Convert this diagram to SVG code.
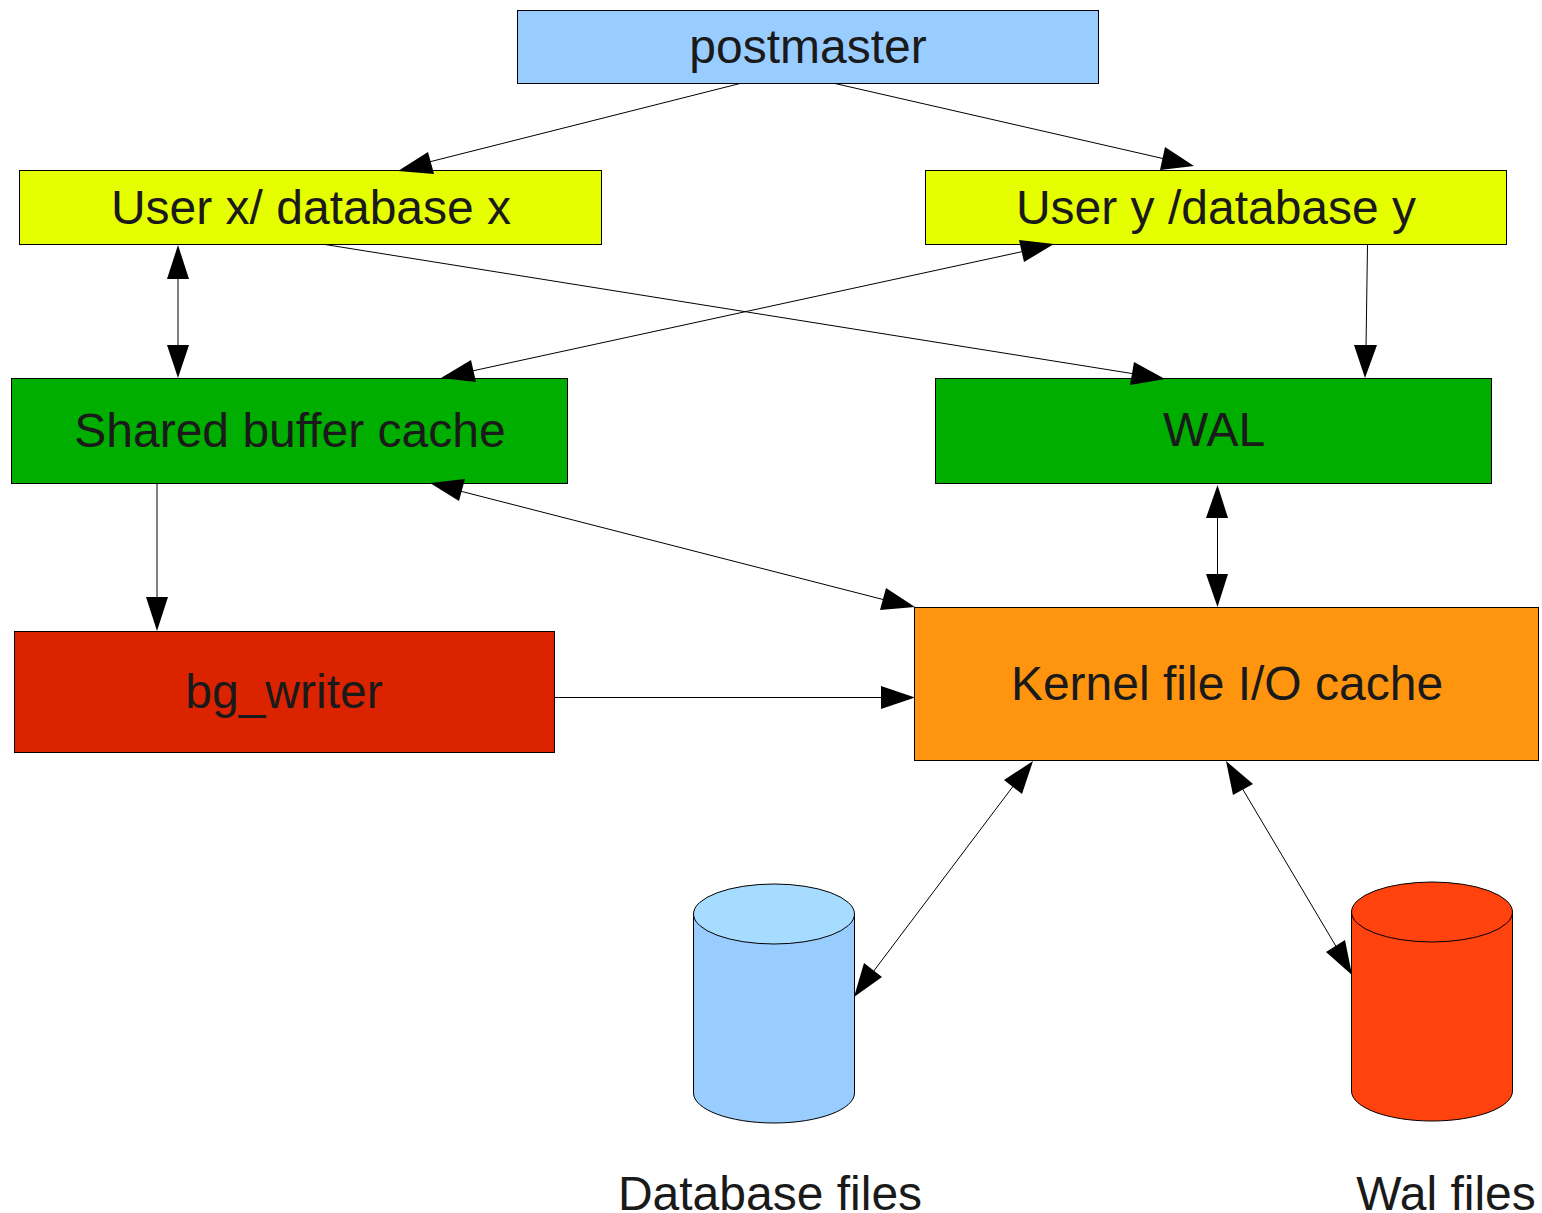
<svg xmlns="http://www.w3.org/2000/svg" width="1542" height="1213" viewBox="0 0 1542 1213">
<style>
.n{stroke:#000;stroke-width:1}
text{font-family:"Liberation Sans",Arial,sans-serif;font-size:48px;fill:#1a1a1a;text-anchor:middle}
.c line{stroke:#000;stroke-width:1;fill:none}
.c polygon{fill:#000}
</style>
<rect width="1542" height="1213" fill="#fff"/>
<g id="postmaster"><rect class="n" x="517.500" y="10.500" width="581" height="73" fill="#99ccff"/><text x="808" y="63">postmaster</text></g>
<g id="userx"><rect class="n" x="19.500" y="170.500" width="582" height="74" fill="#e6ff00"/><text x="311" y="224">User x/ database x</text></g>
<g id="usery"><rect class="n" x="925.500" y="170.500" width="581" height="74" fill="#e6ff00"/><text x="1216" y="224">User y /database y</text></g>
<g id="shared"><rect class="n" x="11.500" y="378.500" width="556" height="105" fill="#00ae00"/><text x="290" y="447">Shared buffer cache</text></g>
<g id="wal"><rect class="n" x="935.500" y="378.500" width="556" height="105" fill="#00ae00"/><text x="1214" y="446">WAL</text></g>
<g id="bgwriter"><rect class="n" x="14.500" y="631.500" width="540" height="121" fill="#dc2300"/><text x="284" y="708">bg_writer</text></g>
<g id="kernel"><rect class="n" x="914.500" y="607.500" width="624" height="153" fill="#ff950e"/><text x="1227" y="700">Kernel file I/O cache</text></g>
<g id="dbfiles"><path class="n" d="M693.500 914v179c0 16.500 36 30 80.500 30s80.500-13.500 80.500-30V914z" fill="#99ccff"/><ellipse class="n" cx="774" cy="914" rx="80.500" ry="30" fill="#a6dcff"/><text x="770" y="1210">Database files</text></g>
<g id="walfiles"><path class="n" d="M1351.500 912v179c0 16.500 36 30 80.500 30s80.500-13.500 80.500-30V912z" fill="#ff420e"/><ellipse class="n" cx="1432" cy="912" rx="80.500" ry="30" fill="#ff420e"/><text x="1446" y="1210">Wal files</text></g>
<g id="connectors" class="c">
<line x1="740" y1="83.500" x2="425" y2="163"/><polygon points="398,171 428,152 434,174"/>
<line x1="835" y1="83.500" x2="1165" y2="159"/><polygon points="1194,166 1160,170 1165,147"/>
<line x1="178" y1="275" x2="178" y2="348"/><polygon points="178,245 167,279 189,279"/><polygon points="178,378 167,345 189,345"/>
<line x1="325" y1="244.500" x2="1135" y2="374"/><polygon points="1165,379 1130,385 1134,362"/>
<line x1="472" y1="371" x2="1025" y2="251"/><polygon points="441,378 471,360 476,382"/><polygon points="1054,244 1024,262 1019,240"/>
<line x1="1367.500" y1="244.500" x2="1366" y2="348"/><polygon points="1365,378 1354,345 1377,345"/>
<line x1="157" y1="484" x2="157" y2="600"/><polygon points="157,631 146,597 168,597"/>
<line x1="460" y1="491" x2="885" y2="600"/><polygon points="430,483 465,479 459,501"/><polygon points="915,607 880,610 886,588"/>
<line x1="1217.500" y1="515" x2="1217.500" y2="577"/><polygon points="1217.500,485 1206,518 1228,518"/><polygon points="1217.500,607 1206,574 1228,574"/>
<line x1="555" y1="697.500" x2="884" y2="697.500"/><polygon points="915,697.500 881,686 881,709"/>
<line x1="1014" y1="785" x2="873" y2="972"/><polygon points="1033,761 1022,794 1004,780"/><polygon points="854,997 864,963 882,977"/>
<line x1="1242" y1="788" x2="1337" y2="948"/><polygon points="1226,761 1253,784 1233,795"/><polygon points="1352,975 1326,952 1345,940"/>
</g>
</svg>
